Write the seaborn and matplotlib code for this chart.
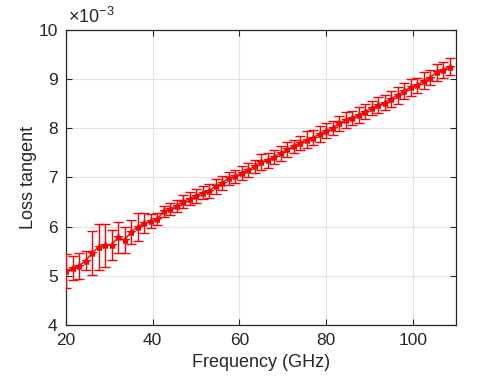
import numpy as np
import pandas as pd
import seaborn as sns
import matplotlib.pyplot as plt

# Loss tangent vs frequency, values in units of 1e-3
freq = [20.0, 21.5, 23.0, 24.5, 26.0, 27.5, 29.0, 30.5, 32.0, 33.5,
        35.0, 36.5, 38.0, 39.5, 41.0, 42.5, 44.0, 45.5, 47.0, 48.5,
        50.0, 51.5, 53.0, 54.5, 56.0, 57.5, 59.0, 60.5, 62.0, 63.5,
        65.0, 66.5, 68.0, 69.5, 71.0, 72.5, 74.0, 75.5, 77.0, 78.5,
        80.0, 81.5, 83.0, 84.5, 86.0, 87.5, 89.0, 90.5, 92.0, 93.5,
        95.0, 96.5, 98.0, 99.5, 101.0, 102.5, 104.0, 105.5, 107.0, 108.5]
tan_d = [5.10, 5.16, 5.20, 5.31, 5.46, 5.59, 5.62, 5.63, 5.78, 5.73,
         5.89, 5.99, 6.07, 6.11, 6.15, 6.31, 6.36, 6.42, 6.51, 6.57,
         6.63, 6.69, 6.73, 6.82, 6.89, 6.98, 7.02, 7.09, 7.15, 7.23,
         7.32, 7.35, 7.42, 7.49, 7.57, 7.63, 7.70, 7.77, 7.81, 7.88,
         7.95, 8.01, 8.10, 8.17, 8.21, 8.27, 8.34, 8.41, 8.47, 8.52,
         8.60, 8.67, 8.76, 8.83, 8.87, 8.97, 9.03, 9.14, 9.19, 9.25]
err = [0.34, 0.24, 0.27, 0.20, 0.45, 0.47, 0.43, 0.30, 0.32, 0.27,
       0.24, 0.28, 0.20, 0.14, 0.12, 0.11, 0.12, 0.13, 0.14, 0.13,
       0.14, 0.13, 0.14, 0.15, 0.14, 0.13, 0.14, 0.15, 0.14, 0.13,
       0.16, 0.15, 0.14, 0.15, 0.16, 0.14, 0.15, 0.17, 0.15, 0.16,
       0.15, 0.14, 0.15, 0.16, 0.15, 0.17, 0.16, 0.15, 0.16, 0.15,
       0.16, 0.17, 0.16, 0.17, 0.16, 0.17, 0.16, 0.17, 0.16, 0.17]

df = pd.DataFrame({'Frequency': freq, 'LossTangent': tan_d, 'Err': err})

sns.set_theme(style='whitegrid')
plt.rcParams['font.family'] = ['Liberation Sans', 'DejaVu Sans']
plt.rcParams['mathtext.fontset'] = 'custom'
plt.rcParams['mathtext.rm'] = 'Liberation Sans'
plt.rcParams['mathtext.it'] = 'Liberation Sans'

dark = '#262626'
fig = plt.figure(figsize=(5.04, 3.78), dpi=100)
ax = fig.add_axes([0.131, 0.140, 0.774, 0.781])

ax.errorbar(df['Frequency'], df['LossTangent'], yerr=df['Err'], fmt='none',
            ecolor='red', elinewidth=1.0, capsize=3.5, capthick=1.0, zorder=3)
sns.lineplot(data=df, x='Frequency', y='LossTangent', ax=ax, color='red',
             marker='*', markersize=6, markeredgecolor='red', linewidth=1.0,
             zorder=4)

ax.set_xlim(20, 110)
ax.set_ylim(4, 10)
ax.set_xticks([20, 40, 60, 80, 100])
ax.set_yticks([4, 5, 6, 7, 8, 9, 10])
ax.set_xlabel('Frequency (GHz)', fontsize=13, color=dark)
ax.set_ylabel('Loss tangent', fontsize=13, color=dark, labelpad=1)
ax.tick_params(direction='in', length=4, width=0.8, colors=dark, labelsize=12.5,
               top=True, right=True, bottom=True, left=True, pad=6)
ax.grid(True, color='#e3e3e3', linewidth=0.8)
for s in ax.spines.values():
    s.set_color(dark)
    s.set_linewidth(0.9)
ax.set_facecolor('white')
ax.text(0.005, 1.01, r'$\times\mathregular{10^{-3}}$', transform=ax.transAxes,
        fontsize=13, color=dark, ha='left', va='bottom')

fig.savefig('out.png', dpi=100, facecolor='white')
